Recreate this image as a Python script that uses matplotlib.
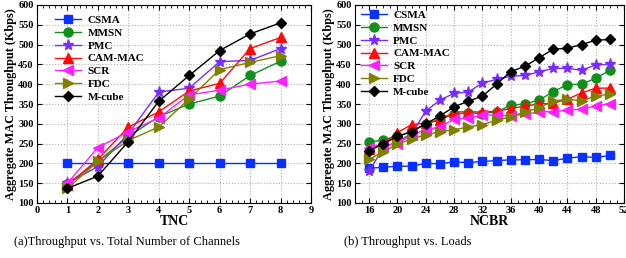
import numpy as np
from matplotlib import pyplot as plt

plt.rcParams['font.family'] = ['Liberation Serif', 'DejaVu Serif']

names = ["CSMA", "MMSN", "PMC", "CAM-MAC", "SCR", "FDC", "M-cube"]
colors = ["#0a30ff", "#10901a", "#7a2bff", "#ff0a0a", "#ff20ff", "#808000", "#000000"]
markers = ["s", "o", "*", "^", "<", ">", "D"]
msizes = [6, 6.5, 8, 6.5, 7, 7, 5.5]

# (a) throughput vs. total number of channels
tnc = [1, 2, 3, 4, 5, 6, 7, 8]
tnc_csma = [201, 201, 201, 201, 201, 201, 201, 201]
tnc_mmsn = [148, 205, 268, 318, 350, 370, 422, 458]
tnc_pmc = [150, 192, 275, 380, 390, 457, 460, 490]
tnc_cam = [145, 210, 292, 330, 383, 402, 490, 518]
tnc_scr = [150, 240, 280, 315, 373, 385, 400, 408]
tnc_fdc = [137, 205, 258, 292, 363, 437, 455, 472]
tnc_mcube = [137, 168, 255, 357, 422, 485, 527, 555]

# (b) throughput vs. loads
ncbr = list(range(16, 51, 2))
ncbr_csma = [188, 190, 193, 193, 200, 199, 204, 202, 205, 207, 209, 209, 210, 207, 213, 217, 215, 220]
ncbr_mmsn = [253, 260, 268, 282, 300, 310, 325, 327, 326, 330, 347, 350, 360, 381, 399, 400, 415, 435]
ncbr_pmc = [180, 240, 255, 275, 332, 360, 377, 380, 403, 412, 420, 422, 431, 440, 440, 435, 449, 450]
ncbr_cam = [237, 250, 278, 298, 302, 310, 330, 330, 330, 332, 338, 345, 350, 352, 362, 378, 390, 390]
ncbr_scr = [240, 245, 250, 272, 285, 292, 312, 315, 322, 322, 320, 324, 330, 331, 334, 337, 345, 351]
ncbr_fdc = [210, 230, 248, 262, 272, 280, 285, 292, 298, 309, 318, 330, 340, 358, 362, 358, 370, 375]
ncbr_mcube = [232, 250, 268, 280, 300, 320, 343, 357, 370, 400, 432, 445, 467, 488, 491, 500, 511, 513]

tnc_series = [tnc_csma, tnc_mmsn, tnc_pmc, tnc_cam, tnc_scr, tnc_fdc, tnc_mcube]
ncbr_series = [ncbr_csma, ncbr_mmsn, ncbr_pmc, ncbr_cam, ncbr_scr, ncbr_fdc, ncbr_mcube]

fig = plt.figure(figsize=(6.26, 2.58), dpi=100)
W, H = 626, 258
ax1 = fig.add_axes([37 / W, 1 - 203 / H, (311 - 37) / W, 198 / H])
ax2 = fig.add_axes([355 / W, 1 - 203 / H, (624 - 355) / W, 198 / H])

def style(ax, x, series, xlabel, anchor):
    for s, n, c, m, ms in zip(series, names, colors, markers, msizes):
        ax.plot(x, s, color=c, marker=m, markersize=ms, linewidth=1, label=n)
    ax.set_ylim(100, 600)
    ax.set_yticks(range(100, 601, 50))
    ax.grid(True, linestyle=':', color='#b0b0b0', linewidth=0.8)
    ax.minorticks_on()
    ax.tick_params(which='both', direction='in', top=True, right=True, labelsize=7.5, pad=2.5)
    ax.tick_params(which='major', length=3.5)
    ax.tick_params(which='minor', length=2)
    ax.tick_params(axis='y', which='minor', left=False, right=False)
    ax.set_xlabel(xlabel, fontsize=10, fontweight='bold', labelpad=0)
    ax.set_ylabel("Aggregate MAC Throughput (Kbps)", fontsize=8.8, fontweight='bold', labelpad=1)
    ax.legend(loc='upper left', frameon=False, prop={'weight': 'bold', 'size': 8},
              handlelength=2.3, handletextpad=0.6, labelspacing=0.28,
              borderaxespad=0.4, borderpad=0.5, bbox_to_anchor=anchor)

style(ax1, tnc, tnc_series, "TNC", (0.03, 1.0))
ax1.set_xlim(0, 9)
ax1.set_xticks(range(0, 10))

style(ax2, ncbr, ncbr_series, "NCBR", (-0.015, 1.025))
ax2.set_xlim(14, 52)
ax2.set_xticks(range(16, 53, 4))

for ax in (ax1, ax2):
    for lab in ax.get_xticklabels() + ax.get_yticklabels():
        lab.set_fontweight('bold')

fig.text(127 / W, 1 - 242 / H, "(a)Throughput vs. Total Number of Channels", ha='center', va='center', fontsize=9)
fig.text(408 / W, 1 - 242 / H, "(b) Throughput vs. Loads", ha='center', va='center', fontsize=9)

fig.savefig("out.png", dpi=100)
